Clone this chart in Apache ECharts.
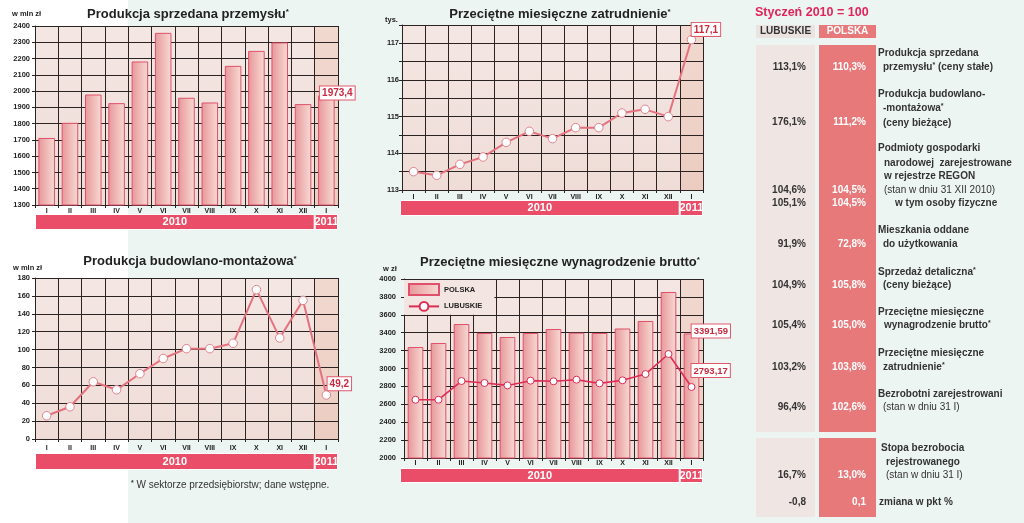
<!DOCTYPE html>
<html><head><meta charset="utf-8">
<script src="https://cdn.jsdelivr.net/npm/echarts@6/dist/echarts.min.js"></script>
<style>
html,body{margin:0;padding:0;}
body{width:1024px;height:523px;background:linear-gradient(to right,#ffffff 0,#ffffff 128px,#edf5f2 128px,#edf5f2 100%);}
#c{width:1024px;height:523px;}
</style>
</head><body><div id="c"></div>
<script>
// ---------- DATA ----------
const months = ['I','II','III','IV','V','VI','VII','VIII','IX','X','XI','XII','I'];
const years = ['2010','2011'];
const yearSpans = [12, 1];
const prodSprzedana = [1712,1805,1979,1926,2182,2358,1959,1930,2155,2247,2299,1920,1973.4];
const zatrudnienie = [113.5,113.4,113.7,113.9,114.3,114.6,114.4,114.7,114.7,115.1,115.2,115.0,117.1];
const prodBudowlana = [26,36,64,55,73,90,101,101,107,167,113,155,49.2];
const wynagrodzeniePolska = [3240,3285,3497,3397,3352,3397,3441,3400,3397,3447,3531,3855,3391.59];
const wynagrodzenieLubuskie = [2651,2651,2860,2838,2811,2864,2857,2875,2834,2868,2938,3162,2793.17];

const chartTitles = ['Produkcja sprzedana przemysłu*','Przeciętne miesięczne zatrudnienie*','Produkcja budowlano-montażowa*','Przeciętne miesięczne wynagrodzenie brutto*'];
const unitLabels = ['w mln zł','tys.','w mln zł','w zł'];
const legendNames = ['POLSKA','LUBUSKIE'];
const footnote = '* W sektorze przedsiębiorstw; dane wstępne.';

const tableTitle = 'Styczeń 2010 = 100';
const tableHeaders = ['LUBUSKIE','POLSKA'];
const tableLubuskie = ['113,1%','176,1%','104,6%','105,1%','91,9%','104,9%','105,4%','103,2%','96,4%','16,7%','-0,8'];
const tablePolska = ['110,3%','111,2%','104,5%','104,5%','72,8%','105,8%','105,0%','103,8%','102,6%','13,0%','0,1'];
const tableLabels = [
  ['Produkcja sprzedana','przemysłu* (ceny stałe)'],
  ['Produkcja budowlano-','-montażowa*','(ceny bieżące)'],
  ['Podmioty gospodarki','narodowej  zarejestrowane','w rejestrze REGON','(stan w dniu 31 XII 2010)'],
  ['w tym osoby fizyczne'],
  ['Mieszkania oddane','do użytkowania'],
  ['Sprzedaż detaliczna*','(ceny bieżące)'],
  ['Przeciętne miesięczne','wynagrodzenie brutto*'],
  ['Przeciętne miesięczne','zatrudnienie*'],
  ['Bezrobotni zarejestrowani','(stan w dniu 31 I)'],
  ['Stopa bezrobocia','rejestrowanego','(stan w dniu 31 I)'],
  ['zmiana w pkt %']
];

// ---------- LAYOUT / STYLE ----------
const FONT = "'Liberation Sans', Arial, sans-serif";
const DARK = '#2b2222';
const TXT = '#222';
const plots = [
  {left:35, top:26, width:303, height:179, min:1300, max:2400, interval:100, yMargin:5, xMargin:3, yl:35, yw:303, yt:214, yh:16, intOnly:false},
  {left:402, top:25, width:301, height:165, min:113, max:117.5, interval:0.5, yMargin:3, xMargin:4, yl:400, yw:303, yt:200, yh:16, intOnly:true},
  {left:35, top:278, width:303, height:161, min:0, max:180, interval:20, yMargin:5, xMargin:6, yl:35, yw:303, yt:453, yh:17, intOnly:false},
  {left:404, top:279, width:299, height:179, min:2000, max:4000, interval:200, yMargin:8, xMargin:2, yl:400, yw:303, yt:468, yh:15, intOnly:false}
];
const titlePos = [[188,14],[560,14],[190,261],[560,262]];
const unitPos = [[12,14],[385,20],[13,268],[383,269]];

const barStyle = {
  color:{type:'linear',x:0,y:0,x2:1,y2:0,colorStops:[{offset:0,color:'#e7979a'},{offset:1,color:'#f8dbd4'}]},
  borderColor:'#e0506a', borderWidth:1
};
const bgNormal = {type:'linear',x:0,y:0,x2:0,y2:1,colorStops:[{offset:0,color:'#f4e7e3'},{offset:1,color:'#efdcd7'}]};
const bgLast = {type:'linear',x:0,y:0,x2:0,y2:1,colorStops:[{offset:0,color:'#f1d9d0'},{offset:1,color:'#ecccc1'}]};
const callout = {backgroundColor:'#fff', borderColor:'#e05a6e', borderWidth:1, padding:[2,2,1,2], color:'#c82a40', fontWeight:'bold', fontSize:10, fontFamily:FONT};
const fmt = v => String(v).replace('.', ',');

function withCallout(arr, pos, fs) {
  return arr.map((v,k) => k === arr.length-1
    ? {value:v, label:Object.assign({show:true, position:pos, formatter:p => fmt(p.value)}, callout, {fontSize:fs})}
    : v);
}

const grid = [], xAxis = [], yAxis = [], series = [];
plots.forEach((p,i) => {
  grid.push({left:p.left, top:p.top, width:p.width, height:p.height, show:false, containLabel:false, outerBoundsMode:'none'});
});
plots.forEach((p,i) => {
  grid.push({left:p.yl, top:p.yt, width:p.yw, height:p.yh, show:false, containLabel:false, outerBoundsMode:'none'});
});
plots.forEach((p,i) => {
  xAxis.push({gridIndex:i, type:'category', data:months, boundaryGap:true,
    axisLine:{show:true, lineStyle:{color:DARK, width:1}},
    axisTick:{show:true, length:3, interval:0, lineStyle:{color:DARK}},
    splitLine:{show:true, interval:0, lineStyle:{color:DARK, width:1}},
    axisLabel:{show:true, interval:0, fontSize:7, fontWeight:'bold', color:TXT, margin:p.xMargin, fontFamily:FONT}});
  xAxis.push({gridIndex:i, type:'category', data:months, boundaryGap:true, show:false});
  yAxis.push({gridIndex:i, type:'value', min:p.min, max:p.max, interval:p.interval,
    axisLine:{show:true, lineStyle:{color:DARK, width:1}},
    axisTick:{show:true, length:3, lineStyle:{color:DARK}},
    splitLine:{show:true, lineStyle:{color:DARK, width:1}},
    axisLabel:{show:true, fontSize:7.5, fontWeight:'bold', color:TXT, margin:p.yMargin, fontFamily:FONT,
      formatter: v => (p.intOnly && Math.abs(v - Math.round(v)) > 1e-6) ? '' : String(v)}});
  yAxis.push({gridIndex:i, type:'value', min:0, max:1, show:false});
  // plot background columns
  series.push({type:'bar', xAxisIndex:2*i+1, yAxisIndex:2*i+1, barWidth:'100%', silent:true, z:-1,
    data: months.map((m,k) => ({value:1, itemStyle:{color: k === months.length-1 ? bgLast : bgNormal}}))});
});
plots.forEach((p,i) => {
  xAxis.push({gridIndex:4+i, type:'value', min:0, max:13, show:false});
  yAxis.push({gridIndex:4+i, type:'category', data:['r'], show:false});
  years.forEach((y,j) => {
    series.push({type:'bar', name:y, xAxisIndex:8+i, yAxisIndex:8+i, stack:'years'+i, barWidth:'100%', silent:true,
      data:[yearSpans[j]],
      itemStyle:{color:'#ea4d68', borderColor:'#ffffff', borderWidth:1},
      label:{show:true, position:'inside', formatter:y, color:'#fff', fontWeight:'bold', fontSize:11, fontFamily:FONT, overflow:'none'}});
  });
});

// main series
series.push({type:'bar', name:'sprzedana', xAxisIndex:0, yAxisIndex:0, barWidth:'71%', itemStyle:barStyle,
  data: withCallout(prodSprzedana, [2,-9], 10)});
const lineA = {lineStyle:{color:'#e3727e', width:2}, symbol:'circle', symbolSize:8.5,
  itemStyle:{color:'#fff', borderColor:'#e0848e', borderWidth:1}};
series.push(Object.assign({type:'line', name:'zatrudnienie', xAxisIndex:2, yAxisIndex:2,
  data: withCallout(zatrudnienie, [5,-12], 10)}, lineA));
series.push(Object.assign({type:'line', name:'budowlana', xAxisIndex:4, yAxisIndex:4,
  data: withCallout(prodBudowlana, [6,-13], 10)}, lineA));
series.push({type:'bar', name:'POLSKA', xAxisIndex:6, yAxisIndex:6, barWidth:'68%', itemStyle:barStyle,
  data: withCallout(wynagrodzeniePolska, [8,-9], 9.5)});
series.push({type:'line', name:'LUBUSKIE', xAxisIndex:6, yAxisIndex:6, z:3,
  lineStyle:{color:'#dd2d55', width:1.6}, symbol:'circle', symbolSize:7,
  itemStyle:{color:'#fff', borderColor:'#dd2d55', borderWidth:1},
  data: withCallout(wynagrodzenieLubuskie, [4,-19], 9.5)});

// ---------- GRAPHIC (titles, units, footnote, table) ----------
function supRich(str, size, weight, fill) {
  const parts = str.split('*');
  let t = '';
  parts.forEach((s,k) => {
    if (s) t += '{m|' + s + '}';
    if (k < parts.length-1) t += '{s|*}';
  });
  return {text:t, rich:{
    m:{fontSize:size, fontWeight:weight, fontFamily:FONT, fill:fill},
    s:{fontSize:Math.round(size*0.65), fontWeight:'bold', fontFamily:FONT, fill:fill, verticalAlign:'top'}}};
}
const graphic = [];
chartTitles.forEach((t,i) => {
  const r = supRich(t, 13, 'bold', TXT);
  graphic.push({type:'text', x:titlePos[i][0], y:titlePos[i][1], silent:true,
    style:Object.assign({align:'center', verticalAlign:'middle'}, r)});
});
unitLabels.forEach((u,i) => {
  graphic.push({type:'text', x:unitPos[i][0], y:unitPos[i][1], silent:true,
    style:{text:u, align:'left', verticalAlign:'middle', fontSize:7.5, fontWeight:'bold', fontFamily:FONT, fill:TXT}});
});
graphic.push({type:'text', x:131, y:485, silent:true,
  style:Object.assign({align:'left', verticalAlign:'middle'}, supRich(footnote, 10, 'normal', '#333'))});

// table
const colL = {x:756, w:59}, colP = {x:819, w:57};
const blocks = [[45,387],[438,79]];
graphic.push({type:'text', x:755, y:13, silent:true,
  style:{text:tableTitle, align:'left', verticalAlign:'middle', fontSize:12.5, fontWeight:'bold', fontFamily:FONT, fill:'#e0245a'}});
graphic.push({type:'rect', shape:{x:colL.x, y:25, width:colL.w, height:13}, style:{fill:'#ebe3df'}, silent:true});
graphic.push({type:'rect', shape:{x:colP.x, y:25, width:colP.w, height:13}, style:{fill:'#e8797b'}, silent:true});
graphic.push({type:'text', x:colL.x+colL.w/2, y:31.5, silent:true,
  style:{text:tableHeaders[0], align:'center', verticalAlign:'middle', fontSize:10, fontWeight:'bold', fontFamily:FONT, fill:'#333'}});
graphic.push({type:'text', x:colP.x+colP.w/2, y:31.5, silent:true,
  style:{text:tableHeaders[1], align:'center', verticalAlign:'middle', fontSize:10, fontWeight:'bold', fontFamily:FONT, fill:'#fff'}});
blocks.forEach(b => {
  graphic.push({type:'rect', shape:{x:colL.x, y:b[0], width:colL.w, height:b[1]}, style:{fill:'#efe5e2'}, silent:true});
  graphic.push({type:'rect', shape:{x:colP.x, y:b[0], width:colP.w, height:b[1]}, style:{fill:'#e7797a'}, silent:true});
});
const rowValueY = [67,122,190,203,244,285,325,367,407,475,502];
const rowLineY = [[53,67],[94,108,123],[148,163,176,190],[203],[230,244],[272,285],[312,325],[353,367],[394,407],[448,462,475],[502]];
const rowLineX = [[878,883],[878,883,883],[878,884,884,884],[895],[878,883],[878,883],[878,884],[878,883],[878,883],[881,886,886],[879]];
tableLabels.forEach((lines,r) => {
  graphic.push({type:'text', x:806, y:rowValueY[r], silent:true,
    style:{text:tableLubuskie[r], align:'right', verticalAlign:'middle', fontSize:10, fontWeight:'bold', fontFamily:FONT, fill:'#333'}});
  graphic.push({type:'text', x:866, y:rowValueY[r], silent:true,
    style:{text:tablePolska[r], align:'right', verticalAlign:'middle', fontSize:10, fontWeight:'bold', fontFamily:FONT, fill:'#fff'}});
  lines.forEach((ln,k) => {
    const w = ln.startsWith('(stan') ? 'normal' : 'bold';
    graphic.push({type:'text', x:rowLineX[r][k], y:rowLineY[r][k], silent:true,
      style:Object.assign({align:'left', verticalAlign:'middle'}, supRich(ln, 10, w, '#333'))});
  });
});

const option = {
  animation:false,
  backgroundColor:'transparent',
  textStyle:{fontFamily:FONT},
  grid, xAxis, yAxis, series, graphic,
  legend:{data:[{name:legendNames[0], icon:'rect'}, {name:legendNames[1]}], orient:'vertical', left:404, top:280,
    itemWidth:30, itemHeight:11, itemGap:5,
    selectedMode:false, backgroundColor:'#f3e5e1', padding:[3,12,3,4],
    textStyle:{fontSize:7.5, fontWeight:'bold', color:TXT, fontFamily:FONT}}
};
const chart = echarts.init(document.getElementById('c'), null, {renderer:'canvas', width:1024, height:523});
chart.setOption(option);
</script>
</body></html>
